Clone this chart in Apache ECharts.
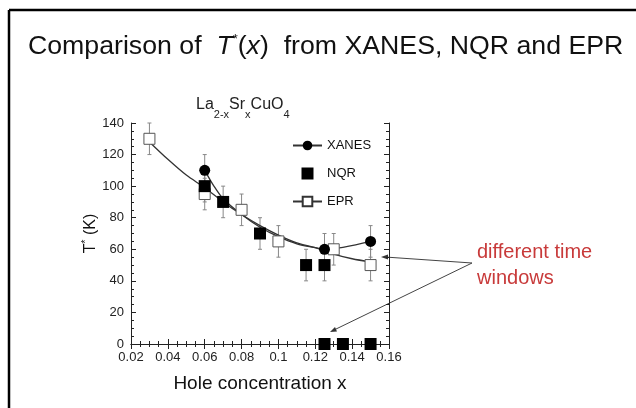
<!DOCTYPE html>
<html>
<head>
<meta charset="utf-8">
<script src="https://cdn.jsdelivr.net/npm/echarts@6/dist/echarts.min.js"></script>
<style>
  html, body { margin: 0; padding: 0; background: #fff; }
  #main { width: 636px; height: 408px; }
</style>
</head>
<body>
<div id="main"></div>
<script>
// measured points [x, T*, error]
var xanesPts = [[0.06, 110, 10], [0.125, 60, 10], [0.15, 65, 10]];
var nqrPts = [[0.06, 100, 10], [0.07, 90, 10], [0.09, 70, 10], [0.115, 50, 10], [0.125, 50, 10]];
var nqrZero = [[0.125, 0], [0.135, 0], [0.15, 0]];
var eprPts = [[0.03, 130, 10], [0.06, 95, 10], [0.08, 85, 10], [0.1, 65, 10], [0.13, 60, 10], [0.15, 50, 10]];
// guide curves
var xanesCurve = [[0.06, 110], [0.065, 100], [0.07, 92], [0.08, 82], [0.09, 74], [0.1, 68], [0.11, 63.5], [0.12, 61], [0.125, 60], [0.15, 65]];
var eprCurve = [[0.03, 128], [0.04, 117], [0.05, 107], [0.06, 99], [0.07, 90], [0.08, 82], [0.09, 75], [0.1, 69], [0.11, 64], [0.12, 61], [0.13, 57], [0.14, 54], [0.15, 52]];

var chart = echarts.init(document.getElementById('main'));
var FONT = 'Liberation Sans, Arial, sans-serif';

function errBars(pts) {
    return {
        type: 'custom',
        silent: true,
        z: 1,
        data: pts,
        renderItem: function (params, api) {
            var x = api.value(0), y = api.value(1), e = api.value(2);
            var hi = api.coord([x, y + e]);
            var lo = api.coord([x, y - e]);
            var st = { stroke: '#888', lineWidth: 1 };
            return {
                type: 'group',
                children: [
                    { type: 'line', shape: { x1: hi[0], y1: hi[1], x2: lo[0], y2: lo[1] }, style: st },
                    { type: 'line', shape: { x1: hi[0] - 2, y1: hi[1], x2: hi[0] + 2, y2: hi[1] }, style: st },
                    { type: 'line', shape: { x1: lo[0] - 2, y1: lo[1], x2: lo[0] + 2, y2: lo[1] }, style: st }
                ]
            };
        }
    };
}

var tickIn = { show: true, inside: true, length: 5, lineStyle: { color: '#222' } };
var minorIn = { show: true, splitNumber: 4, length: 3, lineStyle: { color: '#222' } };

var option = {
    backgroundColor: '#fff',
    animation: false,
    title: [{
        left: 23, top: 28,
        text: '{n|Comparison of  }{i|T}{s|*}{n|(}{i|x}{n|)  from XANES, NQR and EPR}',
        textStyle: {
            rich: {
                n: { fontFamily: FONT, fontSize: 26.7, fontWeight: 'normal', color: '#111' },
                i: { fontFamily: FONT, fontSize: 26.7, fontWeight: 'normal', fontStyle: 'italic', color: '#111' },
                s: { fontFamily: FONT, fontSize: 13, fontWeight: 'normal', color: '#111', verticalAlign: 'top', padding: [0, 0, 12, 0] }
            }
        }
    }, {
        left: 191, top: 92,
        text: '{n|La}{b|2-x}{n|Sr}{b|x}{n|CuO}{b|4}',
        textStyle: {
            rich: {
                n: { fontFamily: FONT, fontSize: 16, fontWeight: 'normal', color: '#222', lineHeight: 22, verticalAlign: 'top' },
                b: { fontFamily: FONT, fontSize: 11, fontWeight: 'normal', color: '#222', lineHeight: 22, verticalAlign: 'top', padding: [12, 0, 0, 0] }
            }
        }
    }],
    legend: {
        orient: 'vertical',
        left: 287, top: 134,
        itemWidth: 29, itemHeight: 12, itemGap: 15,
        textStyle: { fontFamily: FONT, fontSize: 13, color: '#111' },
        data: ['XANES', { name: 'NQR', icon: 'path://M0,0h10v10h-10z' }, 'EPR']
    },
    grid: { left: 131, top: 123, right: 247, bottom: 64 },
    xAxis: [{
        type: 'value', min: 0.02, max: 0.16, interval: 0.02,
        name: 'Hole concentration x', nameLocation: 'middle', nameGap: 30,
        nameTextStyle: { fontFamily: FONT, fontSize: 19, color: '#111' },
        axisLine: { lineStyle: { color: '#222' } },
        axisTick: tickIn, minorTick: minorIn,
        splitLine: { show: false },
        axisLabel: {
            fontFamily: FONT, fontSize: 13, color: '#222', margin: 7,
            formatter: function (v) { return String(parseFloat(v.toFixed(2))); }
        }
    }, {
        type: 'value', min: 0.02, max: 0.16, interval: 0.02, position: 'top',
        axisLine: { lineStyle: { color: '#222' } },
        axisTick: tickIn, minorTick: minorIn,
        splitLine: { show: false }, axisLabel: { show: false }
    }],
    yAxis: [{
        type: 'value', min: 0, max: 140, interval: 20,
        name: '{n|T}{s|*}{n| (K)}', nameLocation: 'middle', nameGap: 21, nameRotate: 90,
        nameTextStyle: {
            rich: {
                n: { fontFamily: FONT, fontSize: 16, color: '#111' },
                s: { fontFamily: FONT, fontSize: 10, color: '#111', verticalAlign: 'top', padding: [0, 0, 8, 0] }
            }
        },
        axisLine: { show: true, lineStyle: { color: '#222' } },
        axisTick: tickIn, minorTick: minorIn,
        splitLine: { show: false },
        axisLabel: { fontFamily: FONT, fontSize: 13, color: '#222', margin: 7 }
    }, {
        type: 'value', min: 0, max: 140, interval: 20, position: 'right',
        axisLine: { show: true, lineStyle: { color: '#222' } },
        axisTick: tickIn, minorTick: minorIn,
        splitLine: { show: false }, axisLabel: { show: false }
    }],
    series: [{
        name: 'XANES', type: 'line', data: xanesCurve, smooth: 0.3,
        showSymbol: false, symbol: 'circle', symbolSize: 11,
        itemStyle: { color: '#000' }, lineStyle: { color: '#333', width: 1.3 }, z: 2
    }, {
        name: 'NQR', type: 'scatter', data: nqrPts, symbol: 'rect', symbolSize: 12,
        itemStyle: { color: '#000', opacity: 1 }, z: 4
    }, {
        name: 'EPR', type: 'line', data: eprCurve, smooth: 0.3,
        showSymbol: false, symbol: 'emptyRect', symbolSize: 11,
        itemStyle: { color: '#333' }, lineStyle: { color: '#333', width: 1.3 }, z: 2
    },
    errBars(xanesPts), errBars(nqrPts), errBars(eprPts),
    {
        name: 'EPR', type: 'scatter', data: eprPts, symbol: 'rect', symbolSize: 11,
        itemStyle: { color: '#fff', borderColor: '#555', borderWidth: 1, opacity: 1 }, z: 3
    }, {
        name: 'XANES', type: 'scatter', data: xanesPts, symbol: 'circle', symbolSize: 11,
        itemStyle: { color: '#000', opacity: 1 }, z: 5
    }, {
        name: 'NQR', type: 'scatter', data: nqrZero, symbol: 'rect', symbolSize: 12,
        itemStyle: { color: '#000', opacity: 1 }, z: 5, clip: false
    }],
    graphic: [
        { type: 'line', shape: { x1: 9, y1: 10, x2: 636, y2: 10 }, style: { stroke: '#000', lineWidth: 2.5 } },
        { type: 'line', shape: { x1: 9, y1: 10, x2: 9, y2: 408 }, style: { stroke: '#000', lineWidth: 2.5 } },
        {
            type: 'text', left: 477, top: 239,
            style: { text: 'different time\nwindows', fill: '#c83a3a', font: '20px ' + FONT, lineHeight: 26 }
        },
        { type: 'line', shape: { x1: 472, y1: 263, x2: 385, y2: 257 }, style: { stroke: '#444', lineWidth: 1 } },
        { type: 'polygon', shape: { points: [[381, 257], [388, 254.5], [388, 259.5]] }, style: { fill: '#333' } },
        { type: 'line', shape: { x1: 472, y1: 263, x2: 334, y2: 330 }, style: { stroke: '#444', lineWidth: 1 } },
        { type: 'polygon', shape: { points: [[330, 332], [335, 327], [337, 331.5]] }, style: { fill: '#333' } }
    ]
};
chart.setOption(option);
</script>
</body>
</html>
